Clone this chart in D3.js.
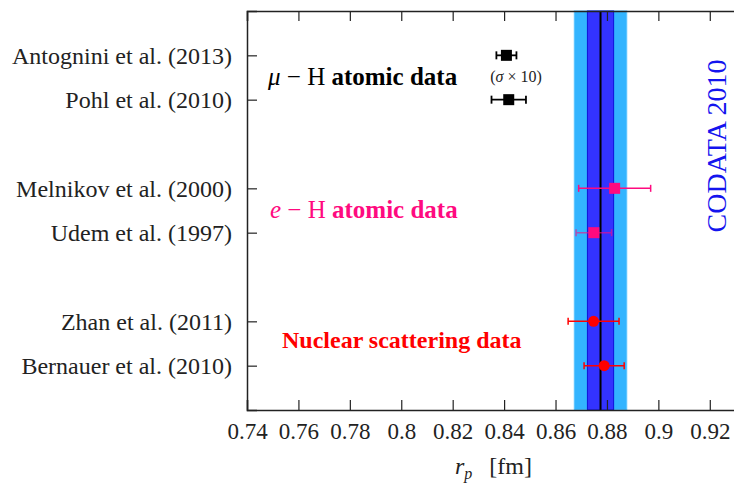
<!DOCTYPE html>
<html>
<head>
<meta charset="utf-8">
<script src="https://cdn.jsdelivr.net/npm/d3@7"></script>
<style>
  body { margin: 0; background: #fff; }
</style>
</head>
<body>
<svg id="chart" width="734" height="483"></svg>
<script>
// row labels, top to bottom (blank rows separate the groups)
const labels = ['Antognini et al. (2013)', 'Pohl et al. (2010)',
  'Melnikov et al. (2000)', 'Udem et al. (1997)',
  'Zhan et al. (2011)', 'Bernauer et al. (2010)'];
const rows = [1, 2, 4, 5, 7, 8];
const radius = [0.8409, 0.8418, 0.8830, 0.8749, 0.8748, 0.8789];
const sigma = [0.0039, 0.0067, 0.0140, 0.0069, 0.0099, 0.0078]; // muonic ones shown x10
const group = ['mu', 'mu', 'e', 'e', 'nuc', 'nuc'];
const xTicks = [0.74, 0.76, 0.78, 0.8, 0.82, 0.84, 0.86, 0.88, 0.9, 0.92];
const codata = 0.8775;
const codataSigma = 0.0051;

const colours = { mu: '#000000', e: '#ff0a7f', nuc: '#ff0000' };
const serif = "'Liberation Serif', 'Times New Roman', serif";

const svg = d3.select('#chart');
const margin = { left: 247, top: 11, bottom: 410 };
const x = d3.scaleLinear().domain([0.74, 0.93]).range([margin.left, 735.5]);
const y = d3.scaleLinear().domain([0, 9]).range([margin.top, margin.bottom]);

// CODATA bands
svg.append('rect')
  .attr('x', x(codata - 2 * codataSigma)).attr('y', margin.top)
  .attr('width', x(codata + 2 * codataSigma) - x(codata - 2 * codataSigma))
  .attr('height', margin.bottom - margin.top)
  .style('fill', '#33b4ff').style('stroke', '#5cc4ff').style('stroke-width', 1);
svg.append('rect')
  .attr('x', x(codata - codataSigma)).attr('y', margin.top)
  .attr('width', x(codata + codataSigma) - x(codata - codataSigma))
  .attr('height', margin.bottom - margin.top)
  .style('fill', '#3333ff').style('stroke', '#1010d8').style('stroke-width', 1);
svg.append('line')
  .attr('x1', x(codata)).attr('x2', x(codata))
  .attr('y1', margin.top).attr('y2', margin.bottom)
  .style('stroke', '#000').style('stroke-width', 2);

// axes
svg.append('g')
  .attr('transform', 'translate(0,' + margin.bottom + ')')
  .call(d3.axisBottom(x).tickValues(xTicks).tickSize(-10).tickPadding(13)
    .tickFormat(d => d3.format('')(+d.toFixed(2))))
  .call(g => g.select('.domain').style('stroke', '#222').style('stroke-width', 1.5))
  .call(g => g.selectAll('.tick line').style('stroke', '#222').style('stroke-width', 1.2))
  .call(g => g.selectAll('.tick text').style('font-size', '23px').style('fill', '#222')
    .style('font-family', serif));

svg.append('g')
  .attr('transform', 'translate(0,' + margin.top + ')')
  .call(d3.axisTop(x).tickValues(xTicks).tickSize(-10).tickFormat(''))
  .call(g => g.select('.domain').style('stroke', '#222').style('stroke-width', 1.5))
  .call(g => g.selectAll('.tick line').style('stroke', '#222').style('stroke-width', 1.2));

svg.append('g')
  .attr('transform', 'translate(' + margin.left + ',0)')
  .call(d3.axisLeft(y).tickValues(rows).tickSize(-10).tickPadding(15)
    .tickFormat((d, i) => labels[i]))
  .call(g => g.select('.domain').style('stroke', '#222').style('stroke-width', 1.5))
  .call(g => g.selectAll('.tick line').style('stroke', '#222').style('stroke-width', 1.2))
  .call(g => g.selectAll('.tick text').style('font-size', '24px').style('fill', '#222')
    .style('font-family', serif));

// error bars
const pts = labels.map((l, i) => ({ label: l, row: rows[i], r: radius[i], s: sigma[i], g: group[i] }));
const bars = svg.append('g').selectAll('g').data(pts).enter().append('g')
  .style('stroke', d => colours[d.g])
  .style('stroke-width', d => d.g === 'mu' ? 1.8 : 1.5)
  .style('opacity', d => d.label.startsWith('Udem') ? 0.6 : 1);
bars.append('line')
  .attr('x1', d => x(d.r - d.s)).attr('x2', d => x(d.r + d.s))
  .attr('y1', d => y(d.row)).attr('y2', d => y(d.row));
[-1, 1].forEach(k => {
  bars.append('line')
    .attr('x1', d => x(d.r + k * d.s)).attr('x2', d => x(d.r + k * d.s))
    .attr('y1', d => y(d.row) - (d.g === 'mu' ? 4 : 3.5))
    .attr('y2', d => y(d.row) + (d.g === 'mu' ? 4 : 3.5));
});

// markers
svg.append('g').selectAll('rect').data(pts.filter(d => d.g !== 'nuc')).enter()
  .append('rect')
  .attr('x', d => x(d.r) - 5.5).attr('y', d => y(d.row) - 5.5)
  .attr('width', 11).attr('height', 11)
  .style('fill', d => colours[d.g]);
svg.append('g').selectAll('circle').data(pts.filter(d => d.g === 'nuc')).enter()
  .append('circle')
  .attr('cx', d => x(d.r)).attr('cy', d => y(d.row)).attr('r', 5.5)
  .style('fill', colours.nuc);

// group annotations
function groupLabel(xp, yp, sym, colour) {
  const t = svg.append('text').attr('x', xp).attr('y', yp)
    .style('font-family', serif).style('font-size', '25px').style('fill', colour);
  t.append('tspan').style('font-style', 'italic').text(sym);
  t.append('tspan').text(' − H ');
  t.append('tspan').style('font-weight', 'bold').text('atomic data');
}
groupLabel(268, 85, 'μ', colours.mu);
groupLabel(270, 218, 'e', colours.e);

svg.append('text').attr('x', 516).attr('y', 82).attr('text-anchor', 'middle')
  .style('font-family', serif).style('font-size', '16px').style('fill', '#222')
  .html('(<tspan font-style="italic">σ</tspan> × 10)');

svg.append('text').attr('x', 282).attr('y', 348)
  .style('font-family', serif).style('font-size', '24px').style('font-weight', 'bold')
  .style('fill', colours.nuc)
  .text('Nuclear scattering data');

svg.append('text')
  .attr('transform', 'translate(726,146) rotate(-90)')
  .attr('text-anchor', 'middle')
  .style('font-family', serif).style('font-size', '28px').style('fill', '#1414ee')
  .text('CODATA 2010');

// x axis title
const xl = svg.append('text').attr('x', 455).attr('y', 474)
  .style('font-family', serif).style('font-size', '24px').style('fill', '#222');
xl.append('tspan').style('font-style', 'italic').text('r');
xl.append('tspan').attr('dy', 5).style('font-size', '16px').style('font-style', 'italic').text('p');
xl.append('tspan').attr('dy', -5).attr('dx', 17).text('[fm]');
</script>
</body>
</html>
